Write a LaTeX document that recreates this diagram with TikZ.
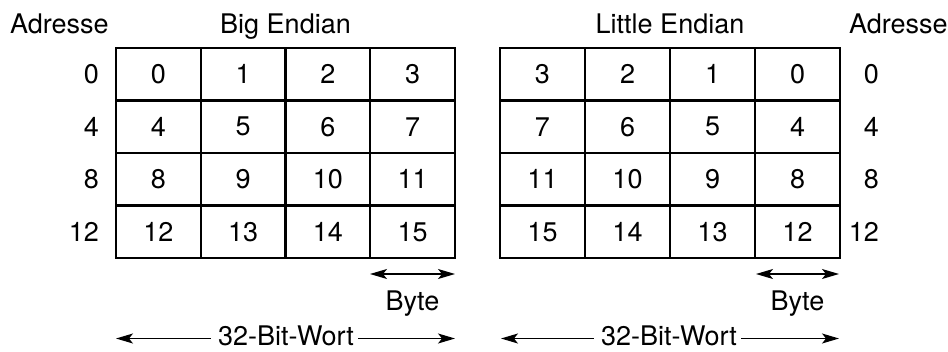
\documentclass[tikz,border=0pt]{standalone}
\usepackage{fontspec}
\setmainfont{TeX Gyre Heros}
\usetikzlibrary{arrows.meta}
\begin{document}
\begin{tikzpicture}[x=1pt,y=-1pt,
 every node/.style={font=\fontsize{27}{32}\selectfont, inner sep=0pt},
 cell/.style={draw, line width=2.4pt, minimum width=84.75pt, minimum height=52.5pt, anchor=center},
 tip/.tip={Stealth[length=17pt,width=10pt,inset=4pt]},
 arr/.style={line width=1.3pt, -tip},
 darr/.style={line width=1.3pt, tip-tip},
 wort/.style={anchor=base, text depth=0pt}]
\useasboundingbox (0,0) rectangle (948,351);
% titles
\node[anchor=base west] (adrL) at (10,33) {Adresse};
\node[anchor=base] (big) at (285.5,33) {Big Endian};
\node[anchor=base] (little) at (670,33) {Little Endian};
\node[anchor=base west] (adrR) at (849,33) {Adresse};
% cells
\foreach \r in {0,...,3} {
 \foreach \c in {0,...,3} {
  \pgfmathtruncatemacro\n{4*\r+\c}
  \pgfmathtruncatemacro\m{4*\r+3-\c}
  \node[cell] (B-\r-\c) at ({158.4+84.75*\c},{74.25+52.5*\r}) {\n};
  \node[cell] (L-\r-\c) at ({542.5+85*\c},{74.25+52.5*\r}) {\m};
 }
 \pgfmathtruncatemacro\a{4*\r}
 \node[anchor=east] (aL-\r) at (99,{74.25+52.5*\r}) {\a};
 \node[anchor=east] (aR-\r) at (879,{74.25+52.5*\r}) {\a};
}
% byte arrows
\coordinate (b1l) at (370,274);
\coordinate (b1r) at (455,274);
\draw[darr] (b1l) -- (b1r);
\node[anchor=base] (byte1) at (412.5,310) {Byte};
\coordinate (b2l) at (756,274);
\coordinate (b2r) at (839,274);
\draw[darr] (b2l) -- (b2r);
\node[anchor=base] (byte2) at (797.5,310) {Byte};
% word arrows
\node[wort] (w1) at (286,345) {32-Bit-Wort};
\coordinate (w1l) at (116,338.5);
\coordinate (w1r) at (455,338.5);
\draw[arr] ([xshift=-7pt]w1.west |- w1l) -- (w1l);
\draw[arr] ([xshift=4pt]w1.east |- w1r) -- (w1r);
\node[wort] (w2) at (669,345) {32-Bit-Wort};
\coordinate (w2l) at (501,338.5);
\coordinate (w2r) at (839,338.5);
\draw[arr] ([xshift=-7pt]w2.west |- w2l) -- (w2l);
\draw[arr] ([xshift=4pt]w2.east |- w2r) -- (w2r);
\end{tikzpicture}
\end{document}
